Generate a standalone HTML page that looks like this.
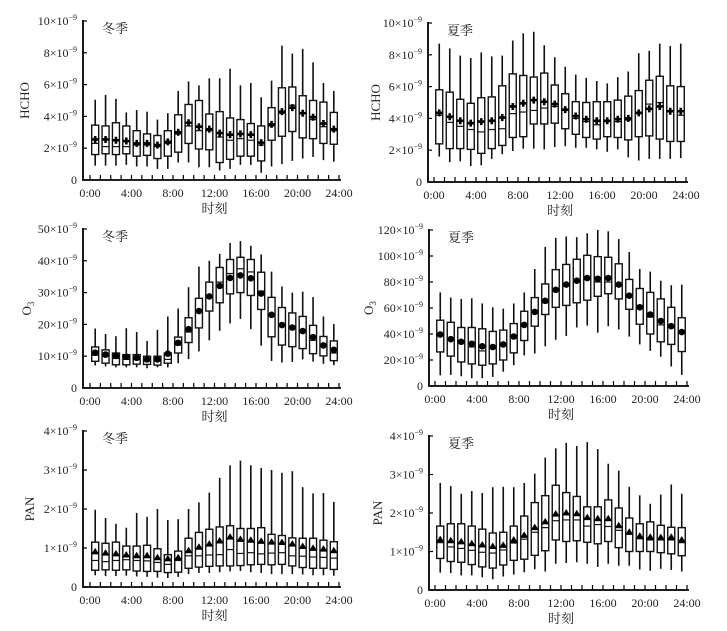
<!DOCTYPE html>
<html><head><meta charset="utf-8">
<style>
html,body{margin:0;padding:0;background:#fff;}
svg{display:block;font-family:"Liberation Serif","Noto Serif CJK SC","Noto Sans CJK SC",serif;}
</style></head>
<body>
<svg id="fig" width="727" height="631" viewBox="0 0 727 631" xmlns="http://www.w3.org/2000/svg"></svg>
<script>
// ---- data (units 1e-9), 24 hourly boxes each ----
const hours = [0,1,2,3,4,5,6,7,8,9,10,11,12,13,14,15,16,17,18,19,20,21,22,23];
const xTickLabels = ["0:00","4:00","8:00","12:00","16:00","20:00","24:00"];

const hchoW_lo  = [0.9,0.9,0.9,0.95,0.85,0.85,0.7,0.7,1.1,1.1,0.8,0.8,0.6,0.7,0.95,0.95,0.45,0.85,1.0,1.2,1.35,1.45,1.25,1.15];
const hchoW_q1  = [1.6,1.65,1.6,1.65,1.5,1.55,1.35,1.5,1.75,2.3,1.95,1.9,1.1,1.3,1.5,1.5,1.2,2.5,2.75,3.05,2.65,2.6,2.3,2.25];
const hchoW_med = [2.3,2.1,2.1,2.1,2.2,2.2,2.1,2.3,2.9,3.4,3.1,3.1,2.7,2.5,2.6,2.5,2.2,3.4,4.2,4.7,4.2,3.8,3.35,3.1];
const hchoW_q3  = [3.45,3.4,3.6,3.4,3.1,2.9,2.8,3.1,4.1,4.75,5.0,4.15,4.3,3.9,3.8,3.55,3.4,4.55,5.8,5.85,5.3,5.0,4.9,4.25];
const hchoW_hi  = [5.05,5.35,5.1,4.25,4.4,4.3,3.8,4.2,5.6,6.2,5.95,6.4,6.4,7.0,5.95,6.1,5.2,6.25,8.45,7.95,8.25,7.4,6.1,5.6];
const hchoW_mean= [2.55,2.55,2.5,2.45,2.3,2.3,2.2,2.4,3.0,3.6,3.35,3.2,2.95,2.85,2.9,2.85,2.35,3.5,4.3,4.55,4.2,3.95,3.55,3.2];

const hchoS_lo  = [1.6,1.25,1.3,1.0,1.05,1.45,1.75,1.95,2.1,2.1,2.05,2.2,2.25,2.15,2.15,2.05,1.9,2.05,1.55,1.35,1.45,1.45,1.45,1.5];
const hchoS_q1  = [2.4,2.1,2.1,2.05,1.8,2.1,2.3,2.8,2.85,3.65,3.65,3.7,3.35,3.0,2.8,2.7,2.85,2.8,2.65,2.85,2.9,2.7,2.55,2.55];
const hchoS_med = [4.2,3.75,3.5,3.3,3.15,3.3,3.35,4.3,4.4,4.5,4.65,4.75,4.5,4.0,3.8,3.6,3.8,3.8,3.9,4.3,4.9,5.0,4.5,4.2];
const hchoS_q3  = [5.8,5.65,5.2,4.95,5.3,5.35,6.05,6.8,6.7,6.6,6.85,6.1,5.55,5.05,5.0,5.05,5.05,5.15,5.4,5.75,6.4,6.65,6.05,6.0];
const hchoS_hi  = [8.7,8.4,7.95,7.8,8.15,7.9,7.95,8.9,9.35,9.45,8.6,7.85,7.25,6.75,6.55,6.35,6.2,6.6,6.95,8.1,8.25,8.7,8.55,8.7];
const hchoS_mean= [4.35,4.1,3.85,3.7,3.8,3.85,4.05,4.75,4.95,5.15,5.05,4.9,4.55,4.15,3.95,3.85,3.85,3.95,4.0,4.35,4.6,4.75,4.45,4.45];

const o3W_lo  = [7.1,6.8,6.5,6.5,6.5,6.2,6.5,6.5,7.8,9.1,11.5,15,18,20.3,21.7,18.5,13.3,8.5,8,8.2,9,8.3,7.6,7.2];
const o3W_q1  = [8.4,7.8,7.3,7.3,7.5,7.4,7.2,7.8,11,14.3,18.9,24.2,26.8,29.6,30,29.1,24.7,16.1,13.5,13,12.4,10.8,10.1,8.6];
const o3W_med = [10.3,10,9.3,9,8.9,8.5,8.5,9,13.5,17.6,24.1,28.5,33.3,36,37.5,36.5,30.5,23,20,18.9,17.8,15,13,11];
const o3W_q3  = [12.9,12,11,10.5,10.5,10,10,11,16,22.1,28.2,33.3,37.9,40.4,41.1,40.4,36.4,28.5,25.3,23.6,22.5,19.7,16.2,14.8];
const o3W_hi  = [18.7,17,16.3,18.8,17.6,14.8,18.3,22.5,25,31.7,38.2,40,42.2,45.6,46.2,44.7,42,36.6,31.9,30,30.3,28.6,22.5,20.1];
const o3W_mean= [11.1,10.5,10.1,9.8,9.5,9.0,9.0,10.8,14.2,18.5,24.2,28.8,32.1,34.6,35.4,34.5,29.7,23,19.8,19,17.9,16,13.4,12];

const o3S_lo  = [8.2,8.5,7.5,6,6,7,11,16,23.5,25,30.5,35.5,38.5,45,46.5,41,46,43.5,38,32,27,22.5,15,8.5];
const o3S_q1  = [26.2,23,18.5,17,16,17,20,25.5,35,46,55,60.5,62,64,66,69,71,67,59,47.5,40,34,32,26.5];
const o3S_med = [40.3,36,33,30,27,29,31,38,46,57,64,73,77,80,82,80,80,77,70,62,53,47,45,41];
const o3S_q3  = [50.6,49,45,45,44,42,43,48,57.5,68,78.5,89.5,93.5,97.5,100.5,99.5,99,94,82,75,72,67,60.5,52.5];
const o3S_hi  = [72,68,67,67.5,63.5,60.5,59.5,63.5,72,90,107,114,115,114.5,117.5,120,119,113,103,90,88,81,77.5,78];
const o3S_mean= [39.6,36,34,32.5,30.5,30,32,38,47,57,65.5,74,78,81,83,82.5,83,78,69.5,60.5,55,50,46,41.5];

const panW_lo  = [0.3,0.28,0.28,0.29,0.27,0.26,0.24,0.23,0.26,0.33,0.36,0.36,0.38,0.4,0.41,0.38,0.36,0.33,0.33,0.33,0.32,0.3,0.3,0.29];
const panW_q1  = [0.43,0.44,0.43,0.44,0.41,0.4,0.4,0.37,0.38,0.48,0.51,0.53,0.54,0.54,0.55,0.57,0.58,0.57,0.58,0.54,0.5,0.48,0.48,0.45];
const panW_med = [0.68,0.65,0.68,0.7,0.68,0.67,0.63,0.58,0.68,0.8,0.8,0.82,0.83,0.96,0.86,0.88,0.85,0.87,0.88,0.8,0.79,0.77,0.76,0.74];
const panW_q3  = [1.15,1.12,1.15,1.05,1.05,1.07,0.98,0.83,0.92,1.25,1.4,1.48,1.54,1.57,1.5,1.5,1.52,1.35,1.32,1.26,1.25,1.25,1.2,1.16];
const panW_hi  = [1.98,1.77,1.62,1.52,1.9,1.8,2.0,1.72,1.74,2.0,2.17,2.42,2.8,3.12,3.24,3.12,3.05,3.0,2.93,2.97,2.56,2.4,2.41,2.18];
const panW_mean= [0.9,0.87,0.85,0.82,0.8,0.8,0.75,0.72,0.75,0.93,1.02,1.1,1.18,1.28,1.22,1.2,1.17,1.15,1.14,1.1,1.04,0.99,0.97,0.93];

const panS_lo  = [0.45,0.44,0.38,0.38,0.33,0.28,0.35,0.4,0.46,0.54,0.48,0.68,0.7,0.72,0.68,0.6,0.68,0.63,0.63,0.53,0.5,0.55,0.52,0.48];
const panS_q1  = [0.82,0.74,0.72,0.66,0.6,0.57,0.65,0.77,0.8,0.9,1.02,1.3,1.26,1.28,1.24,1.2,1.26,1.1,1.0,1.0,1.0,0.97,0.94,0.89];
const panS_med = [1.23,1.12,1.08,1.03,0.98,0.96,1.04,1.22,1.32,1.5,1.62,1.8,1.82,1.82,1.66,1.7,1.65,1.55,1.45,1.33,1.3,1.3,1.3,1.23];
const panS_q3  = [1.66,1.72,1.72,1.66,1.58,1.48,1.5,1.66,1.92,2.27,2.45,2.72,2.53,2.43,2.16,2.16,2.34,2.13,1.87,1.72,1.77,1.68,1.63,1.62];
const panS_hi  = [2.78,2.7,2.5,2.57,2.52,2.67,2.68,2.67,2.78,3.02,3.44,3.68,3.82,3.74,3.84,3.66,3.28,3.1,2.68,2.46,2.24,2.48,2.74,2.5];
const panS_mean= [1.31,1.28,1.25,1.2,1.17,1.13,1.16,1.3,1.42,1.62,1.77,1.97,2.0,1.98,1.88,1.85,1.85,1.67,1.5,1.4,1.37,1.36,1.37,1.3];

const yTicksHCHO = [0,2,4,6,8,10];
const yTicksO3W = [0,10,20,30,40,50];
const yTicksO3S = [0,20,40,60,80,100,120];
const yTicksPAN = [0,1,2,3,4];

// ---- layout ----
const NS = "http://www.w3.org/2000/svg";
const svg = document.getElementById("fig");
function mk(tag, attrs, parent){
  const e = document.createElementNS(NS, tag);
  for (const k in attrs) e.setAttribute(k, attrs[k]);
  (parent||svg).appendChild(e);
  return e;
}

const panels = [
 {id:"hcho-winter", ax:83, h0:90, h24:339, y0:180, yTop:21, max:10, ticks:yTicksHCHO, ylab:"HCHO", season:"冬季", mk:"plus",
  lo:hchoW_lo,q1:hchoW_q1,med:hchoW_med,q3:hchoW_q3,hi:hchoW_hi,mean:hchoW_mean, ylabX:25},
 {id:"hcho-summer", ax:428, h0:434, h24:686, y0:182, yTop:23, max:10, ticks:yTicksHCHO, ylab:"HCHO", season:"夏季", mk:"plus",
  lo:hchoS_lo,q1:hchoS_q1,med:hchoS_med,q3:hchoS_q3,hi:hchoS_hi,mean:hchoS_mean, ylabX:376},
 {id:"o3-winter", ax:83, h0:90, h24:339, y0:388, yTop:229, max:50, ticks:yTicksO3W, ylab:"O3", season:"冬季", mk:"circle",
  lo:o3W_lo,q1:o3W_q1,med:o3W_med,q3:o3W_q3,hi:o3W_hi,mean:o3W_mean, ylabX:27},
 {id:"o3-summer", ax:429, h0:435, h24:687, y0:386, yTop:230, max:120, ticks:yTicksO3S, ylab:"O3", season:"夏季", mk:"circle",
  lo:o3S_lo,q1:o3S_q1,med:o3S_med,q3:o3S_q3,hi:o3S_hi,mean:o3S_mean, ylabX:369},
 {id:"pan-winter", ax:83, h0:90, h24:339, y0:587, yTop:431, max:4, ticks:yTicksPAN, ylab:"PAN", season:"冬季", mk:"tri",
  lo:panW_lo,q1:panW_q1,med:panW_med,q3:panW_q3,hi:panW_hi,mean:panW_mean, ylabX:30},
 {id:"pan-summer", ax:429, h0:435, h24:687, y0:590, yTop:436, max:4, ticks:yTicksPAN, ylab:"PAN", season:"夏季", mk:"tri",
  lo:panS_lo,q1:panS_q1,med:panS_med,q3:panS_q3,hi:panS_hi,mean:panS_mean, ylabX:378}
];

panels.forEach(p => {
  const g = mk("g", {});
  
  
  const X = h => p.h0 + (p.h24 - p.h0) * h / 24;
  const Y = v => p.y0 - (p.y0 - p.yTop) * v / p.max;

  const axes = mk("path", {d:`M${p.ax},${p.yTop-1}V${p.y0}H${p.h24+2}`, fill:"none", stroke:"#000", "stroke-width":"1.8"}, g);
  
  

  p.ticks.forEach(t => {
    const y = Y(t);
    mk("line", {x1:p.ax, x2:p.ax+4, y1:y, y2:y, stroke:"#000", "stroke-width":"1.2"}, g);
    const tx = mk("text", {x:p.ax-6, y:y+4, "font-size":"12", "text-anchor":"end", fill:"#222"}, g);
    
    
    if (t === 0) { tx.textContent = "0"; }
    else {
      tx.appendChild(document.createTextNode(t + "×10"));
      const s = mk("tspan", {dy:"-5", "font-size":"8"}, tx);
      s.textContent = "−9";
    }
  });

  for (let h = 0; h <= 24; h++) {
    mk("line", {x1:X(h), x2:X(h), y1:p.y0, y2:p.y0-5, stroke:"#000", "stroke-width":"1.2"}, g);
  }
  xTickLabels.forEach((lab, i) => {
    const tx = mk("text", {x:X(i*4), y:p.y0+17, "font-size":"12", "text-anchor":"middle", fill:"#222"}, g);
    
    
    tx.textContent = lab;
  });

  const xt = mk("text", {x:(p.h0+p.h24)/2, y:p.y0+33, "font-size":"13", "text-anchor":"middle", fill:"#222"}, g);
  
  
  xt.textContent = "时刻";

  const yc = (p.y0 + p.yTop) / 2;
  const yt = mk("text", {x:p.ylabX, y:yc, "font-size":"13", "text-anchor":"middle", fill:"#222", transform:`rotate(-90 ${p.ylabX} ${yc})`, dy:"4"}, g);
  
  
  if (p.ylab === "O3") {
    yt.appendChild(document.createTextNode("O"));
    const s = mk("tspan", {dy:"3", "font-size":"9"}, yt); s.textContent = "3";
  } else yt.textContent = p.ylab;

  const st = mk("text", {x:p.ax+19, y:p.yTop+12, "font-size":"13", fill:"#222"}, g);
  
  
  st.textContent = p.season;

  hours.forEach((h, i) => {
    const cx = X(h + 0.5);
    const w = 7;
    const bg = mk("g", {}, g);
    
    
    mk("line", {x1:cx, x2:cx, y1:Y(p.hi[i]), y2:Y(p.q3[i]), stroke:"#111", "stroke-width":"1.6"}, bg);
    mk("line", {x1:cx, x2:cx, y1:Y(p.q1[i]), y2:Y(p.lo[i]), stroke:"#111", "stroke-width":"1.6"}, bg);
    mk("rect", {x:cx-w/2, y:Y(p.q3[i]), width:w, height:Y(p.q1[i])-Y(p.q3[i]), fill:"#fff", stroke:"#111", "stroke-width":"1.4"}, bg);
    mk("line", {x1:cx-w/2, x2:cx+w/2, y1:Y(p.med[i]), y2:Y(p.med[i]), stroke:"#111", "stroke-width":"1.2"}, bg);
    const my = Y(p.mean[i]);
    let m;
    if (p.mk === "plus") {
      m = mk("path", {d:`M${cx-3.5},${my}H${cx+3.5}M${cx},${my-3.5}V${my+3.5}`, stroke:"#000", "stroke-width":"2.6"}, bg);
    } else if (p.mk === "circle") {
      m = mk("circle", {cx:cx, cy:my, r:3.3, fill:"#000"}, bg);
    } else {
      m = mk("path", {d:`M${cx},${my-4}L${cx+4},${my+2.5}L${cx-4},${my+2.5}Z`, fill:"#000"}, bg);
    }
    
    
  });
});
</script>
</body></html>
